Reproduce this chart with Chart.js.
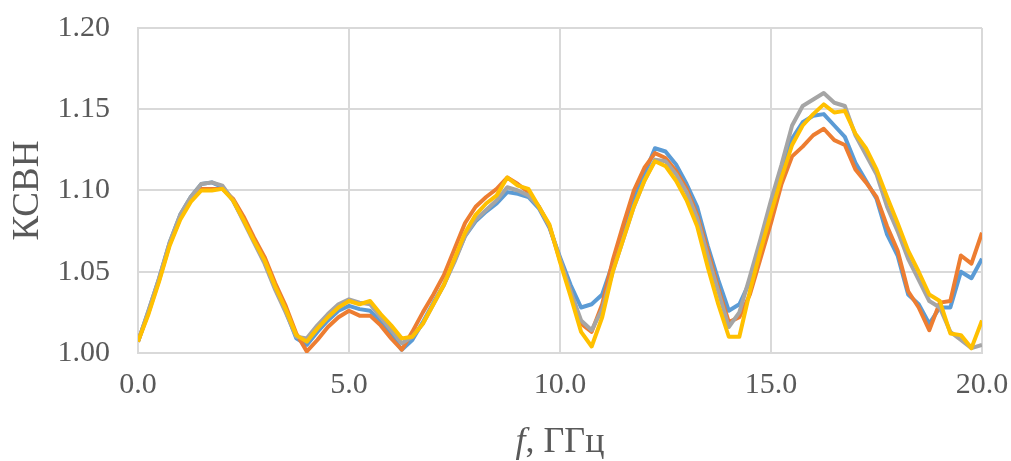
<!DOCTYPE html>
<html lang="ru">
  <head>
    <meta charset="UTF-8" />
    <title>КСВН</title>
    <script src="https://cdn.jsdelivr.net/npm/chart.js"></script>
    <style>
      body {
        margin: 0;
        background: #fff;
      }
      #vswrChart {
        display: block;
      }
    </style>
  </head>
  <body>
    <canvas id="vswrChart" width="1011" height="461"></canvas>

    <script>
      // frequency grid, GHz
      const freq = [
        0, 0.25, 0.5, 0.75, 1, 1.25, 1.5, 1.75, 2, 2.25, 2.5, 2.75, 3, 3.25, 3.5, 3.75,
        4, 4.25, 4.5, 4.75, 5, 5.25, 5.5, 5.75, 6, 6.25,
        6.5, 6.75, 7, 7.25, 7.5, 7.75, 8, 8.25, 8.5, 8.75,
        9, 9.25, 9.5, 9.75, 10, 10.25, 10.5, 10.75, 11, 11.25,
        11.5, 11.75, 12, 12.25, 12.5, 12.75, 13, 13.25, 13.5, 13.75,
        14, 14.25, 14.5, 14.75, 15, 15.25, 15.5, 15.75, 16, 16.25,
        16.5, 16.75, 17, 17.25, 17.5, 17.75, 18, 18.25, 18.5, 18.75,
        19, 19.25, 19.5, 19.75, 20,
      ];

      const vswrBlue = [
        1.007, 1.026, 1.046, 1.068, 1.085, 1.096, 1.104, 1.105, 1.102, 1.094, 1.082, 1.069, 1.056, 1.040, 1.026, 1.009,
        1.005, 1.013, 1.020, 1.026, 1.029, 1.027, 1.026, 1.019, 1.011, 1.002,
        1.008, 1.019, 1.031, 1.042, 1.057, 1.072, 1.081, 1.087, 1.092, 1.099,
        1.098, 1.096, 1.089, 1.077, 1.059, 1.042, 1.028, 1.030, 1.036, 1.055,
        1.075, 1.095, 1.110, 1.126, 1.124, 1.116, 1.104, 1.090, 1.066, 1.045,
        1.026, 1.030, 1.044, 1.065, 1.088, 1.113, 1.132, 1.142, 1.146, 1.147,
        1.140, 1.133, 1.117, 1.106, 1.095, 1.073, 1.060, 1.036, 1.030, 1.018,
        1.028, 1.028, 1.050, 1.046, 1.058,
      ];

      const vswrOrange = [
        1.007, 1.025, 1.045, 1.067, 1.083, 1.094, 1.101, 1.101, 1.101, 1.095, 1.084, 1.071, 1.059, 1.043, 1.029, 1.012,
        1.001, 1.008, 1.016, 1.022, 1.026, 1.023, 1.023, 1.017, 1.009, 1.002,
        1.013, 1.025, 1.036, 1.048, 1.064, 1.080, 1.090, 1.096, 1.101, 1.108,
        1.104, 1.099, 1.090, 1.078, 1.057, 1.038, 1.018, 1.013, 1.030, 1.057,
        1.079, 1.100, 1.114, 1.123, 1.120, 1.112, 1.101, 1.085, 1.063, 1.040,
        1.019, 1.022, 1.036, 1.058, 1.080, 1.104, 1.121, 1.127, 1.134, 1.138,
        1.131, 1.128, 1.113, 1.105, 1.096, 1.078, 1.063, 1.038, 1.028, 1.014,
        1.031, 1.032, 1.060, 1.055, 1.074,
      ];

      const vswrGray = [
        1.007, 1.026, 1.046, 1.068, 1.085, 1.096, 1.104, 1.105, 1.103, 1.094, 1.081, 1.068, 1.055, 1.039, 1.025, 1.010,
        1.009, 1.017, 1.024, 1.030, 1.033, 1.031, 1.030, 1.022, 1.014, 1.006,
        1.010, 1.018, 1.030, 1.042, 1.056, 1.072, 1.082, 1.088, 1.094, 1.102,
        1.100, 1.097, 1.090, 1.078, 1.058, 1.038, 1.020, 1.014, 1.027, 1.050,
        1.070, 1.090, 1.106, 1.119, 1.118, 1.110, 1.099, 1.083, 1.060, 1.038,
        1.016, 1.025, 1.047, 1.070, 1.094, 1.116, 1.140, 1.152, 1.156, 1.160,
        1.154, 1.152, 1.134, 1.122, 1.110, 1.090, 1.075, 1.058, 1.045, 1.032,
        1.028, 1.013, 1.008, 1.003, 1.005,
      ];

      const vswrYellow = [
        1.007, 1.024, 1.044, 1.066, 1.082, 1.093, 1.100, 1.100, 1.101, 1.094, 1.082, 1.069, 1.057, 1.041, 1.027, 1.011,
        1.007, 1.015, 1.022, 1.028, 1.032, 1.030, 1.032, 1.024, 1.017, 1.009,
        1.010, 1.018, 1.030, 1.042, 1.058, 1.074, 1.085, 1.092, 1.097, 1.108,
        1.103, 1.101, 1.090, 1.079, 1.056, 1.035, 1.013, 1.004, 1.022, 1.050,
        1.070, 1.090, 1.106, 1.118, 1.115, 1.106, 1.094, 1.078, 1.053, 1.030,
        1.010, 1.010, 1.038, 1.063, 1.086, 1.108, 1.128, 1.140, 1.147, 1.153,
        1.148, 1.149, 1.135, 1.126, 1.113, 1.096, 1.080, 1.063, 1.050, 1.036,
        1.032, 1.012, 1.011, 1.003, 1.020,
      ];

      const xTicks = [0, 5, 10, 15, 20];
      const yTicks = [1.0, 1.05, 1.1, 1.15, 1.2];

      const serif = "'Liberation Serif', 'Times New Roman', serif";
      const tickColor = "#595959";
      const gridColor = "#d9d9d9";

      function series(values, color, order) {
        return {
          data: freq.map((f, i) => ({ x: f, y: values[i] })),
          borderColor: color,
          borderWidth: 4,
          borderJoinStyle: "round",
          pointRadius: 0,
          tension: 0,
          fill: false,
          order: order,
        };
      }

      // x-axis caption: italic "f" followed by upright units
      const freqTitle = {
        id: "freqTitle",
        afterDraw(chart) {
          const ctx = chart.ctx;
          const area = chart.chartArea;
          const a = "f";
          const b = ", ГГц";
          ctx.save();
          ctx.fillStyle = tickColor;
          ctx.textBaseline = "alphabetic";
          ctx.font = "italic 36px " + serif;
          const wa = ctx.measureText(a).width;
          ctx.font = "36px " + serif;
          const wb = ctx.measureText(b).width;
          const x = (area.left + area.right) / 2 - (wa + wb) / 2;
          const y = 452;
          ctx.font = "italic 36px " + serif;
          ctx.fillText(a, x, y);
          ctx.font = "36px " + serif;
          ctx.fillText(b, x + wa, y);
          ctx.restore();
        },
      };

      new Chart(document.getElementById("vswrChart"), {
        type: "line",
        data: {
          datasets: [
            series(vswrBlue, "#5B9BD5", 4),
            series(vswrOrange, "#ED7D31", 3),
            series(vswrGray, "#A5A5A5", 2),
            series(vswrYellow, "#FFC000", 1),
          ],
        },
        options: {
          responsive: false,
          animation: false,
          layout: { padding: { top: 28, right: 29, bottom: 0, left: 0 } },
          plugins: {
            legend: { display: false },
            tooltip: { enabled: false },
          },
          scales: {
            x: {
              type: "linear",
              min: 0,
              max: 20,
              afterBuildTicks(scale) {
                scale.ticks = xTicks.map((v) => ({ value: v }));
              },
              afterFit(scale) {
                scale.height = 108;
                scale.paddingLeft = 0;
                scale.paddingRight = 0;
              },
              grid: { color: gridColor, lineWidth: 2, drawTicks: false },
              border: { color: gridColor, width: 2 },
              ticks: {
                color: tickColor,
                font: { family: serif, size: 30 },
                padding: 14,
                maxRotation: 0,
                callback: (v) => Number(v).toFixed(1),
              },
            },
            y: {
              min: 1.0,
              max: 1.2,
              afterBuildTicks(scale) {
                scale.ticks = yTicks.map((v) => ({ value: v }));
              },
              afterFit(scale) {
                scale.width = 138;
                scale.paddingTop = 0;
                scale.paddingBottom = 0;
              },
              grid: { color: gridColor, lineWidth: 2, drawTicks: false },
              border: { color: gridColor, width: 2 },
              title: {
                display: true,
                text: "КСВН",
                color: tickColor,
                font: { family: serif, size: 37 },
                padding: { top: 6, bottom: 0 },
              },
              ticks: {
                color: tickColor,
                font: { family: serif, size: 30 },
                padding: 28,
                callback: (v) => Number(v).toFixed(2),
              },
            },
          },
        },
        plugins: [freqTitle],
      });
    </script>
  </body>
</html>
